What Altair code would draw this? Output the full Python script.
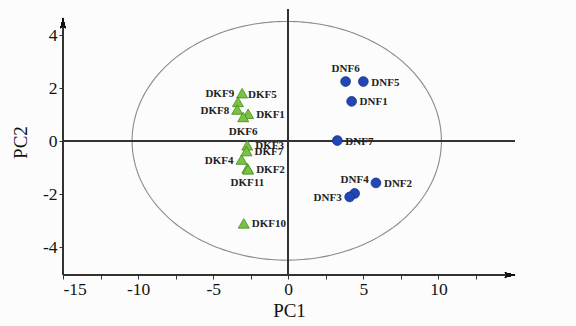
import altair as alt
import pandas as pd
import numpy as np

# ---- data ----
dkf_names = ["DKF9", "DKF5", "DKF8", "DKF1", "DKF6", "DKF3", "DKF7", "DKF4", "DKF11", "DKF2", "DKF10"]
dkf_pc1 = [-3.07, -3.35, -3.40, -2.67, -3.00, -2.73, -2.78, -3.11, -2.72, -2.67, -2.96]
dkf_pc2 = [1.82, 1.49, 1.20, 1.04, 0.92, -0.15, -0.37, -0.69, -1.02, -1.06, -3.10]
dkf_side = ["left", "upright", "left", "right", "below", "right", "right", "left", "below", "right", "right"]

dnf_names = ["DNF6", "DNF5", "DNF1", "DNF7", "DNF2", "DNF4", "DNF3"]
dnf_pc1 = [3.82, 5.00, 4.22, 3.27, 5.84, 4.42, 4.09]
dnf_pc2 = [2.26, 2.26, 1.51, 0.03, -1.57, -1.97, -2.10]
dnf_side = ["above", "right", "right", "right", "right", "above", "left"]

# confidence ellipse (center, semi-axes)
ell_center = (-0.1, 0.02)
ell_axes = (10.3, 4.51)

x_ticks = [-15, -12.5, -10, -7.5, -5, -2.5, 0, 2.5, 5, 7.5, 10, 12.5]
y_ticks = [-4, -3, -2, -1, 0, 1, 2, 3, 4]

W, H = 452, 266
FONT = "Liberation Serif"

pts = pd.DataFrame({
    "name": dkf_names + dnf_names,
    "pc1": dkf_pc1 + dnf_pc1,
    "pc2": dkf_pc2 + dnf_pc2,
    "group": ["DKF"] * len(dkf_names) + ["DNF"] * len(dnf_names),
    "side": dkf_side + dnf_side,
})

t = np.linspace(0, 2 * np.pi, 241)
ell = pd.DataFrame({
    "pc1": ell_center[0] + ell_axes[0] * np.cos(t),
    "pc2": ell_center[1] + ell_axes[1] * np.sin(t),
    "order": np.arange(len(t)),
})

xs = alt.Scale(domain=[-15, 15.1], nice=False, zero=False)
ys = alt.Scale(domain=[-5.05, 5], nice=False, zero=False)

x_axis = alt.Axis(values=x_ticks, labelExpr="datum.value % 5 == 0 ? '' + datum.value : ''",
                  grid=False, domain=False, tickColor="#333", tickSize=4, tickWidth=1,
                  labelFont=FONT, labelFontSize=17.5, labelColor="#111", labelPadding=1,
                  title="PC1", titleFont=FONT, titleFontSize=19, titleFontWeight="normal",
                  titleColor="#111", titlePadding=4)
y_axis = alt.Axis(values=y_ticks, labelExpr="datum.value % 2 == 0 ? '' + datum.value : ''",
                  grid=False, domain=False, tickColor="#333", tickSize=4, tickWidth=1,
                  labelFont=FONT, labelFontSize=17.5, labelColor="#111", labelPadding=2,
                  title="PC2", titleFont=FONT, titleFontSize=19, titleFontWeight="normal",
                  titleColor="#111", titlePadding=12)

base = alt.Chart(pts)

ellipse = alt.Chart(ell).mark_line(color="#8a8a8a", strokeWidth=1.1).encode(
    x=alt.X("pc1:Q", scale=xs, axis=x_axis),
    y=alt.Y("pc2:Q", scale=ys, axis=y_axis),
    order="order:Q",
)

zero_h = alt.Chart(pts).mark_rule(color="#333", strokeWidth=1).encode(
    y=alt.datum(0), x=alt.value(0), x2=alt.value(W))
zero_v = alt.Chart(pts).mark_rule(color="#333", strokeWidth=1).encode(
    x=alt.datum(0), y=alt.value(0), y2=alt.value(H))

x_line = alt.Chart(pts).mark_rule(color="#333", strokeWidth=1.2).encode(
    x=alt.value(0), x2=alt.value(W - 9), y=alt.value(H))
y_line = alt.Chart(pts).mark_rule(color="#333", strokeWidth=1.2).encode(
    y=alt.value(H), y2=alt.value(18), x=alt.value(0))

x_arrow = alt.Chart(pts).mark_point(
    shape="M1,0L-1,-0.5L-0.6,0L-1,0.5Z", filled=True, color="#111", opacity=1, size=110
).encode(x=alt.value(W - 5), y=alt.value(H))
y_arrow = alt.Chart(pts).mark_point(
    shape="M0,-1L0.5,1L0,0.6L-0.5,1Z", filled=True, color="#111", opacity=1, size=110
).encode(x=alt.value(0), y=alt.value(14))

tri = base.transform_filter(alt.datum.group == "DKF").mark_point(
    shape="triangle-up", filled=True, fill="#7dc142", stroke="#3f8a1e", strokeWidth=0.8,
    size=120, opacity=1
).encode(x=alt.X("pc1:Q", scale=xs), y=alt.Y("pc2:Q", scale=ys))

circ = base.transform_filter(alt.datum.group == "DNF").mark_point(
    shape="circle", filled=True, fill="#2146b8", stroke="#16307f", strokeWidth=0.8,
    size=95, opacity=1
).encode(x=alt.X("pc1:Q", scale=xs), y=alt.Y("pc2:Q", scale=ys))

side_style = {
    "right": dict(align="left", dx=8, dy=1),
    "left": dict(align="right", dx=-8, dy=1),
    "above": dict(align="center", dx=0, dy=-13),
    "below": dict(align="center", dx=0, dy=15),
    "upright": dict(align="left", dx=10, dy=-7),
}
labels = []
for side, st in side_style.items():
    labels.append(
        base.transform_filter(alt.datum.side == side).mark_text(
            font=FONT, fontSize=11, fontWeight="bold", color="#222", baseline="middle", **st
        ).encode(x=alt.X("pc1:Q", scale=xs), y=alt.Y("pc2:Q", scale=ys), text="name:N")
    )

chart = alt.layer(ellipse, zero_h, zero_v, x_line, y_line, x_arrow, y_arrow, tri, circ, *labels).properties(
    width=W, height=H,
    autosize=alt.AutoSizeParams(type="none"),
    padding={"left": 63, "top": 9, "right": 61, "bottom": 51},
    background="#fcfcfc",
).configure_view(stroke=None)

chart.save("out.html", embed_options={"renderer": "svg", "actions": False})
